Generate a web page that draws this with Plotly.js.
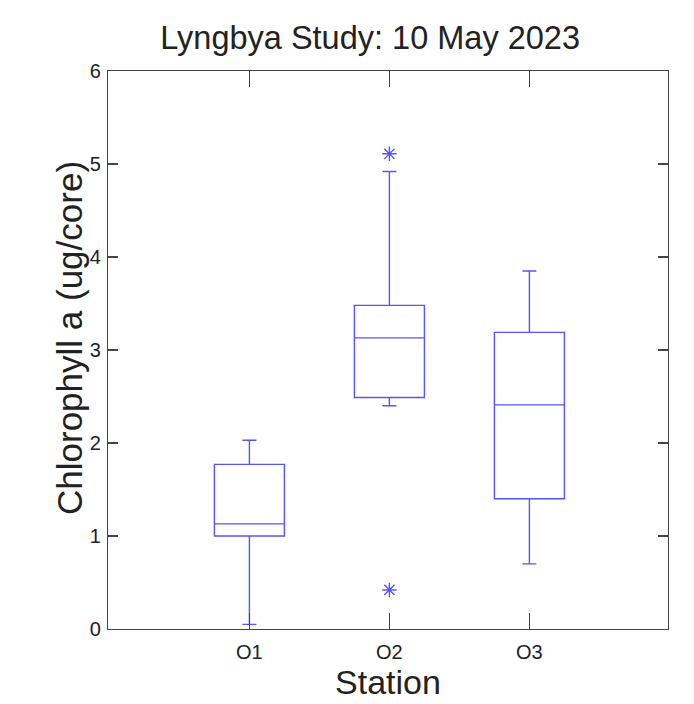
<!DOCTYPE html>
<html>
<head>
<meta charset="utf-8">
<script src="https://cdn.plot.ly/plotly-3.0.1.min.js"></script>
<style>html,body{margin:0;padding:0;background:#fff;}#chart{width:694px;height:704px;}</style>
</head>
<body>
<div id="chart"></div>
<script>
const stations = ['O1', 'O2', 'O3'];
const lowerWhisker = [0.05, 2.40, 0.70];
const q1Values = [1.00, 2.49, 1.40];
const medianValues = [1.13, 3.13, 2.41];
const q3Values = [1.77, 3.48, 3.19];
const upperWhisker = [2.03, 4.92, 3.85];
const outlierStations = ['O2', 'O2'];
const outlierValues = [5.11, 0.42];
const yTicks = [0, 1, 2, 3, 4, 5, 6];

const blue = 'rgb(85,85,255)';
const font = '"Liberation Sans", Arial, Helvetica, sans-serif';

const traces = [
  {
    type: 'box',
    x: stations,
    q1: q1Values,
    median: medianValues,
    q3: q3Values,
    lowerfence: lowerWhisker,
    upperfence: upperWhisker,
    width: 0.5,
    whiskerwidth: 0.2,
    boxpoints: false,
    fillcolor: 'rgba(0,0,0,0)',
    line: {color: blue, width: 1.4},
    hoverinfo: 'skip',
    showlegend: false
  },
  {
    type: 'scatter',
    mode: 'markers',
    x: outlierStations,
    y: outlierValues,
    marker: {symbol: 'asterisk-open', size: 12, color: blue, line: {color: blue, width: 1.4}},
    hoverinfo: 'skip',
    showlegend: false
  }
];

const layout = {
  width: 694,
  height: 704,
  paper_bgcolor: '#fff',
  plot_bgcolor: '#fff',
  margin: {l: 108, r: 26, t: 71, b: 75},
  font: {family: font, color: '#222'},
  title: {
    text: 'Lyngbya Study: 10 May 2023',
    font: {family: font, size: 32.5, color: '#222'},
    x: 0.468, xref: 'paper', xanchor: 'center',
    y: 1 - 49/704, yref: 'container', yanchor: 'bottom'
  },
  xaxis: {
    type: 'category',
    categoryorder: 'array',
    categoryarray: stations,
    range: [-1.01, 2.99],
    showgrid: false, zeroline: false,
    showline: true, linecolor: '#444', linewidth: 1.2, mirror: 'ticks',
    ticks: 'inside', ticklen: 16, tickcolor: '#444', tickwidth: 1.2,
    tickfont: {family: font, size: 20, color: '#222'},
    ticklabelstandoff: 5,
    title: {text: 'Station', font: {family: font, size: 34, color: '#222'}, standoff: 7},
    automargin: false
  },
  yaxis: {
    range: [0, 6],
    tickvals: yTicks,
    ticktext: yTicks.map(String),
    showgrid: false, zeroline: false,
    showline: true, linecolor: '#444', linewidth: 1.2, mirror: 'ticks',
    ticks: 'inside', ticklen: 10, tickcolor: '#444', tickwidth: 1.2,
    tickfont: {family: font, size: 20, color: '#222'},
    ticklabelstandoff: 2,
    automargin: false
  },
  annotations: [{
    text: 'Chlorophyll a (ug/core)',
    textangle: -90,
    xref: 'paper', yref: 'paper',
    x: 0, y: (629 - 338) / 558,
    xanchor: 'center', yanchor: 'middle',
    xshift: -(108 - 69),
    showarrow: false,
    font: {family: font, size: 35, color: '#222'}
  }]
};

Plotly.newPlot('chart', traces, layout, {displayModeBar: false, staticPlot: true});
</script>
</body>
</html>
